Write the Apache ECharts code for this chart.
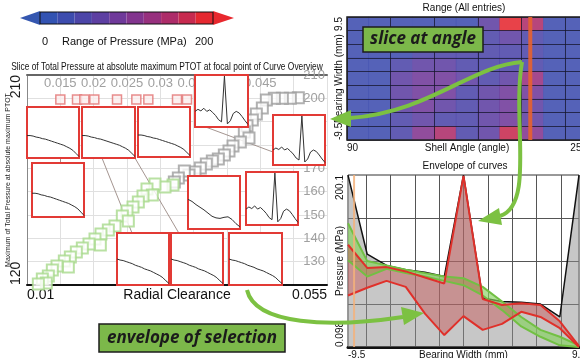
<!DOCTYPE html>
<html>
<head>
<meta charset="utf-8">
<script src="https://cdn.jsdelivr.net/npm/echarts@6/dist/echarts.min.js"></script>
<style>
  html, body { margin: 0; padding: 0; background: #fff; }
  #chart { width: 580px; height: 358px; }
</style>
</head>
<body>
<div id="chart"></div>
<script>
const FONT = "'Liberation Sans', Arial, sans-serif";
const BOLDITALIC = "'Open Sans', 'Noto Sans', sans-serif";

// colour scale
const pressureScale = [0, 200];
const pressureSteps = 10;
const pressureColors = ['#3353b2', '#3d4cae', '#4c45a8', '#5d3fa2', '#6f399a',
                        '#82348e', '#97307e', '#ad2c69', '#c72a4f', '#e52830'];

// left plot: radial clearance vs max total pressure
const clearanceExtent = [0.01, 0.055];
const clearanceTopTicks = [0.015, 0.02, 0.025, 0.03, 0.035, 0.04, 0.045];
const ptotExtent = [120, 210];
const grayPoints = [
  [0.0507, 200.2], [0.0495, 200], [0.0483, 200], [0.0471, 200], [0.0459, 199.3],
  [0.0453, 195.9], [0.0444, 193.3], [0.0438, 190.7], [0.0430, 188.2], [0.0426, 185.6],
  [0.0433, 183], [0.0420, 181.3], [0.0409, 179.6], [0.0403, 177.4], [0.0396, 175.7],
  [0.0387, 174], [0.0378, 173.1], [0.0369, 171.9], [0.0360, 170.1], [0.0352, 168.4],
  [0.0343, 167.1], [0.0336, 168.9], [0.0327, 165.9], [0.0321, 164.1]
];
const greenPoints = [
  [0.0319, 162.9], [0.0307, 162], [0.0292, 163.3], [0.0280, 161.1], [0.0288, 158.6],
  [0.0274, 158.1], [0.0267, 155.6], [0.0259, 153.4], [0.0250, 151.7], [0.0243, 149.6],
  [0.0252, 147.4], [0.0232, 145.3], [0.0222, 143.6], [0.0211, 141.9], [0.0202, 139.7],
  [0.0210, 137.1], [0.0193, 137.6], [0.0183, 135.9], [0.0174, 134.1], [0.0165, 132],
  [0.0156, 130.3], [0.0162, 127.7], [0.0145, 128.1], [0.0138, 126.4], [0.0132, 123.9],
  [0.0123, 122.6], [0.0129, 120.9], [0.0117, 120.4]
];
const smallThumbPoints = [
  [0.0150, 199.5], [0.0175, 199.5], [0.0186, 199.5], [0.0201, 199.5], [0.0235, 199.5],
  [0.0264, 199.5], [0.0282, 199.5], [0.0325, 199.5], [0.0340, 199.5]
];
const leaderSegments = [
  [[0.01495, 174.4], [0.01495, 172.3]],
  [[0.02125, 174.4], [0.02575, 142.3]],
  [[0.0262, 174.4], [0.03295, 141.4]],
  [[0.03595, 188.6], [0.0469, 177]]
];

// thumbnail curves (0..100 inside each box)
const curveSlope = [44, 44, 43, 41, 40, 38, 37, 35, 33, 31, 29, 27, 25, 22, 19, 15, 9, 3];
const curveWavy = [56, 52, 46, 41, 36, 30, 24, 21, 20, 22, 23, 18, 10, 4];
const curveSlope2 = [50, 48, 47, 45, 43, 41, 38, 36, 34, 31, 29, 27, 24, 21, 18, 14, 8, 3];
const curveSpike = [30, 34, 31, 36, 30, 33, 28, 22, 14, 10, 98, 6, 12, 26, 30, 27, 20, 12, 5];
const thumbCurves = [curveSlope, curveSlope, curveSlope, curveSpike, curveSpike, curveSlope,
                     curveWavy, curveSpike, curveSlope2, curveSlope2, curveSlope2];

// heatmap: shell angle x bearing width (rows top -> bottom)
const angleExtent = [90, 255];
const widthExtent = [-9.5, 9.5];
const heatRows = [
  [25, 25, 25, 25, 30, 40, 70, 190, 150, 40, 25],
  [25, 25, 25, 25, 30, 45, 60, 75, 60, 35, 25],
  [25, 25, 35, 45, 45, 45, 45, 50, 45, 30, 25],
  [25, 30, 60, 80, 75, 55, 45, 55, 45, 30, 25],
  [25, 35, 75, 90, 85, 65, 60, 80, 140, 35, 25],
  [25, 35, 75, 90, 85, 60, 70, 90, 85, 35, 25],
  [25, 30, 65, 85, 80, 55, 80, 95, 80, 30, 25],
  [25, 30, 50, 70, 60, 45, 70, 90, 70, 30, 25],
  [30, 35, 45, 110, 160, 50, 75, 170, 120, 40, 25]
];
const sliceAngle = 216;

// envelope of curves
const bearingWidth = [-9.5, -7.92, -6.33, -4.75, -3.17, -1.58, 0, 1.58, 3.17, 4.75, 6.33, 7.92, 9.5];
const envelopeAll = [200, 108, 95, 90, 87, 82, 200, 57, 53, 52, 50, 35, 200];
const selUpper = [119, 92, 93, 88, 81, 74, 199, 56, 49, 51, 49, 30, 1];
const selLower = [60, 69, 77, 70, 39, 14, 36, 20, 27, 41, 35, 22, 0];
const greenUpper = [144, 100, 95, 90, 86, 82, 80, 70, 53, 35, 20, 12, 2];
const greenLower = [101, 82, 91, 86, 82, 77, 72, 60, 43, 24, 12, 2, 0];
const pressureExtent = [0.098, 200.1];
const widthMarker = -9.0;

// ---------------------------------------------------------------
const chart = echarts.init(document.getElementById('chart'));
const near = (a, b) => Math.abs(a - b) < 1e-7;
const pairs = (xs, ys) => xs.map((x, i) => [x, ys[i]]);

const grids = [], xAxes = [], yAxes = [], series = [];

// grid 0 : left scatter  (x 0,1 / y 0,1)
grids.push({ left: 27, top: 75, width: 300, height: 210, outerBoundsMode: 'none' });
xAxes.push({
  gridIndex: 0, type: 'value', min: clearanceExtent[0], max: clearanceExtent[1], interval: 0.005,
  axisLine: { lineStyle: { color: '#111', width: 2 } }, axisTick: { show: false },
  splitLine: { show: true, lineStyle: { color: '#e0e0e0' } },
  axisLabel: {
    color: '#111', fontSize: 14, margin: 3, alignMinLabel: 'left', alignMaxLabel: 'right',
    formatter: v => (near(v, clearanceExtent[0]) || near(v, clearanceExtent[1])) ? String(+v.toFixed(3)) : ''
  },
  name: 'Radial Clearance', nameLocation: 'middle', nameGap: 3, nameMoveOverlap: false,
  nameTextStyle: { color: '#111', fontSize: 14, verticalAlign: 'top' }
});
xAxes.push({
  gridIndex: 0, type: 'value', position: 'top', min: clearanceExtent[0], max: clearanceExtent[1], interval: 0.005,
  axisLine: { lineStyle: { color: '#666', width: 2 } }, axisTick: { show: false }, splitLine: { show: false },
  axisLabel: {
    inside: true, margin: 2, color: '#a0a0a0', fontSize: 13,
    formatter: v => clearanceTopTicks.some(t => near(t, v)) ? String(+v.toFixed(3)) : ''
  }
});
yAxes.push({
  gridIndex: 0, type: 'value', min: ptotExtent[0], max: ptotExtent[1], interval: ptotExtent[1] - ptotExtent[0],
  axisLine: { show: true, lineStyle: { color: '#888', width: 1 } }, axisTick: { show: false },
  splitLine: { show: false },
  axisLabel: { rotate: 90, margin: 4, color: '#1a1a1a', fontSize: 14, alignMinLabel: 'left', alignMaxLabel: 'right' },
  name: 'Maximum of Total Pressure at absolute maximum PTOT', nameLocation: 'middle', nameRotate: 90, nameGap: 15,
  nameMoveOverlap: false,
  nameTextStyle: { fontSize: 7, color: '#222' }
});
yAxes.push({
  gridIndex: 0, type: 'value', position: 'right', min: ptotExtent[0], max: ptotExtent[1], interval: 10,
  axisLine: { show: false }, axisTick: { show: false },
  splitLine: { show: true, lineStyle: { color: '#e0e0e0' } },
  axisLabel: { inside: true, margin: 2, color: '#a0a0a0', fontSize: 13, showMinLabel: false }
});
series.push({
  type: 'lines', coordinateSystem: 'cartesian2d', xAxisIndex: 0, yAxisIndex: 1, z: 1,
  data: leaderSegments.map(s => ({ coords: s })),
  lineStyle: { color: '#9a8a84', width: 1, opacity: 0.9 }
});
series.push({
  type: 'scatter', xAxisIndex: 0, yAxisIndex: 1, data: grayPoints, symbol: 'rect', symbolSize: 11,
  itemStyle: { color: '#fff', borderColor: '#9d9d9d', borderWidth: 2 }
});
series.push({
  type: 'scatter', xAxisIndex: 0, yAxisIndex: 1, data: greenPoints, symbol: 'rect', symbolSize: 11,
  itemStyle: { color: '#fff', borderColor: '#a7d98c', borderWidth: 2 }
});
series.push({
  type: 'scatter', xAxisIndex: 0, yAxisIndex: 1, data: smallThumbPoints, symbol: 'rect', symbolSize: 9,
  itemStyle: { color: '#fbeeee', borderColor: '#e27272', borderWidth: 1.5 }
});

// grids 1,2 : heatmap  (x 2,3 / y 2,3)
const hmRect = { left: 347, top: 17, width: 240, height: 123, outerBoundsMode: 'none' };
grids.push(Object.assign({}, hmRect));
grids.push(Object.assign({ show: true, borderColor: '#222', borderWidth: 1.5, backgroundColor: 'transparent', z: 4 }, hmRect));
const hmCols = heatRows[0].map((_, i) => String(i));
const hmRowsCat = heatRows.map((_, i) => String(i));
xAxes.push({
  gridIndex: 1, type: 'category', data: hmCols, z: 3,
  axisLine: { show: false }, axisTick: { show: false }, axisLabel: { show: false },
  splitLine: { show: true, interval: 1, lineStyle: { color: '#15152a', width: 1, opacity: 0.75 } }
});
yAxes.push({
  gridIndex: 1, type: 'category', data: hmRowsCat, z: 3,
  axisLine: { show: false }, axisTick: { show: false }, axisLabel: { show: false },
  splitLine: { show: true, interval: 0, lineStyle: { color: '#15152a', width: 1, opacity: 0.75 } }
});
xAxes.push({
  gridIndex: 2, type: 'value', min: angleExtent[0], max: angleExtent[1], interval: angleExtent[1] - angleExtent[0],
  axisLine: { show: false }, axisTick: { show: false }, splitLine: { show: false },
  axisLabel: { margin: 3, fontSize: 10, color: '#111', alignMinLabel: 'left', alignMaxLabel: 'right' },
  name: 'Shell Angle (angle)', nameLocation: 'middle', nameGap: 3, nameMoveOverlap: false,
  nameTextStyle: { fontSize: 10, color: '#111', verticalAlign: 'top' }
});
yAxes.push({
  gridIndex: 2, type: 'value', min: widthExtent[0], max: widthExtent[1], interval: widthExtent[1] - widthExtent[0],
  axisLine: { show: false }, axisTick: { show: false }, splitLine: { show: false },
  axisLabel: { rotate: 90, margin: 3, fontSize: 10, color: '#111', alignMinLabel: 'left', alignMaxLabel: 'right' },
  name: 'Bearing Width (mm)', nameLocation: 'middle', nameRotate: 90, nameGap: 3, nameMoveOverlap: false,
  nameTextStyle: { fontSize: 10, color: '#111' }
});
const heatData = [];
heatRows.forEach((row, r) => row.forEach((v, c) => heatData.push([c, heatRows.length - 1 - r, v])));
const heatIndex = series.length;
series.push({ type: 'heatmap', xAxisIndex: 2, yAxisIndex: 2, data: heatData, itemStyle: { opacity: 0.88 } });
series.push({
  type: 'line', xAxisIndex: 3, yAxisIndex: 3, z: 5, symbol: 'none',
  data: [[sliceAngle, widthExtent[0]], [sliceAngle, widthExtent[1]]],
  lineStyle: { color: '#e8622e', width: 4, opacity: 0.9 }
});

// grids 3,4 : envelope of curves  (x 4,5 / y 4,5)
grids.push({ left: 348, top: 175, width: 231, height: 172, show: true, borderColor: '#333', borderWidth: 1, outerBoundsMode: 'none' });
grids.push({ left: 348 - 231 / 38, top: 175, width: 231 + 231 / 19, height: 172, outerBoundsMode: 'none' });
xAxes.push({
  gridIndex: 3, type: 'value', min: widthExtent[0], max: widthExtent[1], interval: widthExtent[1] - widthExtent[0],
  axisLine: { lineStyle: { color: '#111', width: 3 } }, axisTick: { show: false }, splitLine: { show: false },
  axisLabel: { margin: 3, fontSize: 10, color: '#111', alignMinLabel: 'left' },
  name: 'Bearing Width (mm)', nameLocation: 'middle', nameGap: 3, nameMoveOverlap: false,
  nameTextStyle: { fontSize: 10, color: '#111', verticalAlign: 'top' }
});
yAxes.push({
  gridIndex: 3, type: 'value', min: pressureExtent[0], max: pressureExtent[1], interval: 50,
  axisLine: { show: false }, axisTick: { show: false },
  splitLine: { show: true, showMinLine: false, showMaxLine: false, lineStyle: { color: '#555' } },
  axisLabel: {
    rotate: 90, margin: 3, fontSize: 10, color: '#111', alignMinLabel: 'left', alignMaxLabel: 'right',
    formatter: v => (near(v, pressureExtent[0]) || near(v, pressureExtent[1])) ? String(v) : ''
  },
  name: 'Pressure (MPa)', nameLocation: 'middle', nameRotate: 90, nameGap: 3, nameMoveOverlap: false,
  nameTextStyle: { fontSize: 10, color: '#111' }
});
xAxes.push({
  gridIndex: 4, type: 'value', min: -10, max: 10, interval: 2,
  axisLine: { show: false }, axisTick: { show: false }, axisLabel: { show: false },
  splitLine: { show: true, showMinLine: false, showMaxLine: false, lineStyle: { color: '#555' } }
});
yAxes.push({ gridIndex: 4, type: 'value', show: false, splitLine: { show: false } });

// band between two curves, drawn through the envelope axes
function band(upper, lower, fill, opacity) {
  return {
    type: 'custom', xAxisIndex: 4, yAxisIndex: 4, z: 2, silent: true,
    data: [[bearingWidth[0], lower[0]]],
    renderItem: (params, api) => {
      const top = bearingWidth.map((x, i) => api.coord([x, upper[i]]));
      const bottom = bearingWidth.map((x, i) => api.coord([x, lower[i]])).reverse();
      return { type: 'polygon', shape: { points: top.concat(bottom) }, style: { fill: fill, opacity: opacity } };
    }
  };
}
function envLine(values, color, width) {
  return {
    type: 'line', xAxisIndex: 4, yAxisIndex: 4, z: 3, symbol: 'none', data: pairs(bearingWidth, values),
    lineStyle: { color: color, width: width }
  };
}
series.push({
  type: 'line', xAxisIndex: 4, yAxisIndex: 4, z: 1, symbol: 'none', data: pairs(bearingWidth, envelopeAll),
  lineStyle: { color: '#111', width: 1.5 }, areaStyle: { color: '#8f8f8f', opacity: 0.5 }
});
series.push(band(greenUpper, greenLower, '#86d25e', 0.65));
series.push(envLine(greenLower, '#72c043', 2));
series.push(envLine(greenUpper, '#72c043', 2));
series.push(band(selUpper, selLower, '#c84a4a', 0.42));
series.push(envLine(selLower, '#e0302a', 2));
series.push(envLine(selUpper, '#e0302a', 2));
series.push({
  type: 'line', xAxisIndex: 4, yAxisIndex: 4, z: 4, symbol: 'none',
  data: [[widthMarker, pressureExtent[0]], [widthMarker, pressureExtent[1]]],
  lineStyle: { color: '#f4b27a', width: 2, opacity: 0.85 }
});

// thumbnails
const thumbRects = [
  [27, 107, 52, 51], [82, 107, 53, 51], [138, 107, 52, 50], [195, 75, 53, 52],
  [273, 115, 52, 50], [32, 163, 52, 54], [188, 176, 52, 53], [246, 172, 52, 53],
  [117, 233, 52, 52], [171, 233, 52, 52], [229, 233, 53, 52]
];
thumbRects.forEach((r, i) => {
  const g = grids.length;
  grids.push({ left: r[0], top: r[1], width: r[2], height: r[3], show: true, backgroundColor: '#fff',
               borderColor: '#e23a35', borderWidth: 2, z: 5, outerBoundsMode: 'none' });
  const curve = thumbCurves[i];
  xAxes.push({ gridIndex: g, type: 'value', min: 0, max: curve.length - 1, show: false });
  yAxes.push({ gridIndex: g, type: 'value', min: 0, max: 100, show: false });
  series.push({
    type: 'line', xAxisIndex: xAxes.length - 1, yAxisIndex: yAxes.length - 1, z: 6, symbol: 'none',
    data: curve.map((v, j) => [j, v]), lineStyle: { color: '#333', width: 1 }
  });
});

// annotations
const green = '#7cc142';
const arrowHead = (pts) => ({ type: 'polygon', z: 30, shape: { points: pts }, style: { fill: green } });
const curve = (s) => ({ type: 'bezierCurve', z: 30, shape: s, style: { stroke: green, lineWidth: 4, fill: null } });
const labelBox = (x, y, w, h, text) => ([
  { type: 'rect', z: 31, shape: { x: x, y: y, width: w, height: h }, style: { fill: '#7cb84a', stroke: '#1c1c1c', lineWidth: 1.5 } },
  { type: 'text', z: 32, x: x + w / 2, y: y + h / 2,
    style: { text: text, fontSize: 17, fontStyle: 'italic', fontWeight: 'bold', fontFamily: BOLDITALIC,
             fill: '#1b1b1b', align: 'center', verticalAlign: 'middle' } }
]);

const graphic = [
  { type: 'polygon', shape: { points: [[20, 18], [40, 11], [40, 25]] }, style: { fill: '#3557b0' } },
  { type: 'polygon', shape: { points: [[213, 11], [234, 18], [213, 25]] }, style: { fill: '#e8282e' } },
  { type: 'rect', z: 10, shape: { x: 40, y: 12, width: 173, height: 12 }, style: { fill: null, stroke: '#111', lineWidth: 1 } },
  { type: 'text', x: 42, y: 36, style: { text: String(pressureScale[0]), fontSize: 11, fill: '#111', fontFamily: FONT } },
  { type: 'text', x: 62, y: 36, style: { text: 'Range of Pressure (MPa)', fontSize: 11, fill: '#111', fontFamily: FONT } },
  { type: 'text', x: 195, y: 36, style: { text: String(pressureScale[1]), fontSize: 11, fill: '#111', fontFamily: FONT } },
  { type: 'text', x: 167, y: 62, scaleX: 0.8,
    style: { text: 'Slice of Total Pressure at absolute maximum PTOT at focal point of Curve Overview',
             fontSize: 10.5, fill: '#111', fontFamily: FONT, align: 'center' } },
  curve({ x1: 522, y1: 62, cpx1: 470, cpy1: 66, cpx2: 430, cpy2: 112, x2: 350, y2: 118 }),
  arrowHead([[330, 119], [351, 110], [351, 127]]),
  curve({ x1: 522, y1: 62, cpx1: 512, cpy1: 120, cpx2: 535, cpy2: 205, x2: 500, y2: 216 }),
  arrowHead([[478, 221], [499, 208], [502, 225]]),
  curve({ x1: 247, y1: 290, cpx1: 255, cpy1: 325, cpx2: 330, cpy2: 328, x2: 403, y2: 317 }),
  arrowHead([[424, 313], [401, 307], [404, 325]])
].concat(labelBox(363, 27, 120, 25, 'slice at angle'))
 .concat(labelBox(99, 324, 186, 28, 'envelope of selection'));

chart.setOption({
  animation: false,
  backgroundColor: '#fff',
  textStyle: { fontFamily: FONT },
  title: [
    { text: 'Range (All entries)', left: 464, top: 3, textAlign: 'center', padding: 0,
      textStyle: { fontSize: 10, fontWeight: 'normal', color: '#111' } },
    { text: 'Envelope of curves', left: 465, top: 161, textAlign: 'center', padding: 0,
      textStyle: { fontSize: 10, fontWeight: 'normal', color: '#111' } }
  ],
  visualMap: [{
    type: 'piecewise', seriesIndex: heatIndex, min: pressureScale[0], max: pressureScale[1],
    splitNumber: pressureSteps, orient: 'horizontal', left: 40, top: 12, padding: 0,
    itemWidth: 17.3, itemHeight: 12, itemGap: 0, itemSymbol: 'rect', showLabel: false,
    inRange: { color: pressureColors }
  }],
  grid: grids,
  xAxis: xAxes,
  yAxis: yAxes,
  series: series,
  graphic: graphic
});
</script>
</body>
</html>
